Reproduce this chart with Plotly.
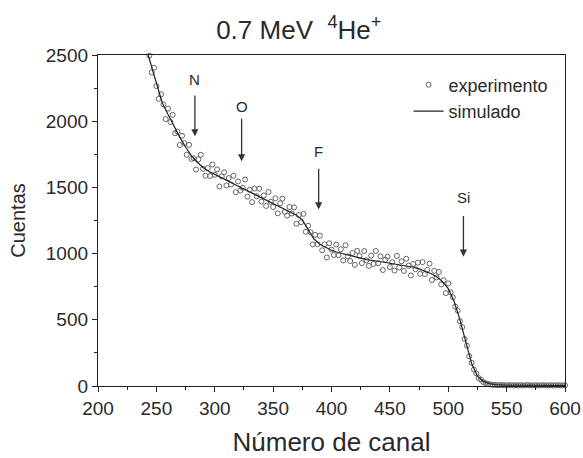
import plotly.graph_objects as go

# ---- data ----
exp_channels = list(range(244, 601, 2))
exp_counts = [
    2495, 2368, 2404, 2265, 2169, 2203, 2127, 2016, 2095, 1994,
    2048, 1909, 1922, 1820, 1890, 1835, 1747, 1821, 1715, 1720,
    1635, 1712, 1746, 1640, 1588, 1646, 1586, 1673, 1595, 1636,
    1507, 1583, 1614, 1515, 1571, 1522, 1588, 1464, 1545, 1476,
    1497, 1559, 1430, 1482, 1389, 1491, 1433, 1490, 1393, 1439,
    1360, 1465, 1391, 1352, 1418, 1304, 1380, 1415, 1315, 1286,
    1352, 1303, 1349, 1225, 1291, 1237, 1300, 1165, 1210, 1162,
    1069, 1142, 1071, 1135, 1025, 1070, 971, 1078, 1030, 989,
    1068, 988, 1033, 948, 1063, 979, 944, 1005, 915, 1021,
    982, 928, 1019, 950, 907, 985, 922, 1020, 927, 979,
    876, 954, 976, 898, 935, 872, 983, 895, 942, 869,
    961, 908, 835, 922, 882, 932, 847, 936, 845, 877,
    924, 800, 870, 820, 861, 767, 799, 702, 775, 707,
    670, 600, 570, 490, 445, 355, 305, 225, 175, 125,
    95, 60, 48, 30, 22, 15, 12, 9, 8,
    7, 6, 8, 5, 6, 5, 7, 4, 6, 5,
    6, 4, 5, 7, 5, 4, 6, 5, 4, 6,
    5, 4, 5, 6, 4, 5, 6, 4, 5, 5,
]

sim_channels = [243, 245, 250, 255, 260, 265, 270, 275, 280, 285, 290, 295, 300,
                305, 310, 315, 320, 325, 330, 335, 340, 345, 350, 355, 360, 365,
                370, 375, 380, 385, 390, 395, 400, 405, 410, 420, 430, 440, 450,
                460, 470, 475, 480, 485, 490, 495, 500, 505, 510, 515, 520, 525,
                530, 535, 540, 550, 560, 580, 600]
sim_counts = [2500, 2440, 2280, 2140, 2050, 1960, 1880, 1805, 1740, 1690, 1650, 1620, 1600,
              1578, 1555, 1532, 1510, 1488, 1467, 1447, 1428, 1405, 1382, 1360, 1335, 1312,
              1290, 1255, 1180, 1110, 1070, 1045, 1025, 1010, 998, 975, 955, 942, 928,
              912, 897, 885, 870, 850, 825, 790, 735, 640, 500, 330, 170, 75,
              35, 18, 10, 6, 5, 5, 5]

elements = ["N", "O", "F", "Si"]
elem_channel = [283, 323, 389, 513]
arrow_tail = [2205, 2030, 1652, 1295]
arrow_head = [1886, 1697, 1333, 977]
label_y = [2318, 2114, 1773, 1424]

FONT = "Liberation Sans, Arial, sans-serif"
INK = "#2a2a2a"
AX = "#222222"

fig = go.Figure()
fig.add_trace(go.Scatter(
    x=exp_channels, y=exp_counts, mode="markers", name="experimento",
    marker=dict(symbol="circle-open", size=5, color="#666666", line=dict(width=1)),
    cliponaxis=False,
))
fig.add_trace(go.Scatter(
    x=sim_channels, y=sim_counts, mode="lines", name="simulado",
    line=dict(color=AX, width=1.2),
))

ann = []
for name, c, t, h, ly in zip(elements, elem_channel, arrow_tail, arrow_head, label_y):
    ann.append(dict(x=c, y=h, ax=c, ay=t, xref="x", yref="y", axref="x", ayref="y",
                    text="", showarrow=True, arrowhead=2, arrowsize=1.1,
                    arrowwidth=1.3, arrowcolor="#333333"))
    ann.append(dict(x=c, y=ly, xref="x", yref="y", text=name, showarrow=False,
                    font=dict(family=FONT, size=15, color=INK)))

fig.update_layout(
    width=583, height=458,
    margin=dict(l=98, r=18, t=55, b=72),
    paper_bgcolor="white", plot_bgcolor="white",
    font=dict(family=FONT, color=INK),
    title=dict(text="0.7 MeV  <sup>4</sup>He<sup>+</sup>", x=0.43, xref="paper",
               xanchor="center", y=1 - 30 / 458, yref="container", yanchor="middle",
               font=dict(size=26, family=FONT, color=INK)),
    xaxis=dict(range=[200, 600], dtick=50, tick0=200, ticks="outside", ticklen=5,
               tickcolor=AX, tickfont=dict(size=19), showline=True, linecolor=AX,
               linewidth=1.3, mirror=True, showgrid=False, zeroline=False,
               automargin=False,
               minor=dict(ticks="outside", ticklen=3, dtick=25, tickcolor=AX),
               title=dict(text="Número de canal", font=dict(size=26), standoff=14)),
    yaxis=dict(range=[0, 2500], dtick=500, tick0=0, ticks="outside", ticklen=5,
               tickcolor=AX, tickfont=dict(size=19), showline=True, linecolor=AX,
               linewidth=1.3, mirror=True, showgrid=False, zeroline=False,
               automargin=False,
               minor=dict(ticks="outside", ticklen=3, dtick=250, tickcolor=AX),
               title=dict(text="Cuentas", font=dict(size=20), standoff=14)),
    legend=dict(x=0.665, y=0.965, xanchor="left", yanchor="top", bgcolor="rgba(0,0,0,0)",
                font=dict(size=18, family=FONT, color=INK), tracegroupgap=0),
    annotations=ann,
    showlegend=True,
)

fig.write_html("out.html")
